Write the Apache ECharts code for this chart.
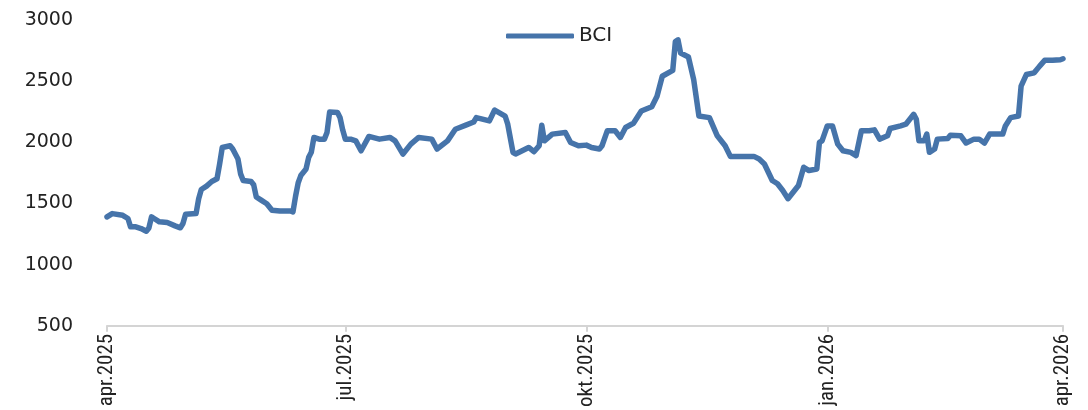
<!DOCTYPE html>
<html>
<head>
<meta charset="utf-8">
<script src="https://cdn.jsdelivr.net/npm/echarts@6/dist/echarts.min.js"></script>
<style>
  html, body { margin: 0; padding: 0; background: #fff; }
  #chart { width: 1088px; height: 410px; }
</style>
</head>
<body>
<div id="chart"></div>
<script>
// days since 1 apr 2025
const dayOffsets = [
  0, 2, 6, 8, 9, 11, 13, 15, 16, 17, 18, 20, 23, 26, 28, 29, 30, 34, 35, 36,
  38, 40, 42, 43, 44, 47, 48, 50, 51, 52, 55, 56, 57, 59, 61, 63, 66, 70, 71, 72,
  73, 74, 76, 77, 78, 79, 81, 83, 84, 85, 88, 89, 90, 91, 93, 95, 97, 100, 104, 108,
  110, 113, 116, 119, 124, 126, 130, 133, 137, 140, 141, 146, 148, 152, 153, 155, 156, 161, 163, 165,
  166, 167, 170, 175, 177, 180, 183, 185, 188, 189, 191, 194, 196, 198, 201, 204, 208, 210, 212, 216,
  217, 218, 219, 222, 224, 226, 230, 233, 236, 238, 247, 249, 251, 254, 256, 258, 260, 264, 266, 268,
  271, 272, 273, 275, 277, 279, 281, 284, 286, 288, 291, 293, 295, 298, 299, 303, 305, 308, 309, 310,
  312, 313, 314, 316, 317, 321, 322, 326, 328, 331, 333, 335, 337, 342, 343, 345, 348, 349, 351, 354,
  356, 358, 361, 364, 365
];
const bciValues = [
  1390, 1417, 1403, 1377, 1309, 1309, 1295, 1273, 1300, 1390, 1377, 1350, 1344, 1317, 1301, 1336, 1411, 1417, 1539, 1614,
  1642, 1680, 1702, 1823, 1958, 1972, 1945, 1864, 1742, 1688, 1680, 1653, 1553, 1525, 1498, 1444, 1439, 1439, 1431, 1560,
  1670, 1728, 1782, 1877, 1918, 2040, 2026, 2026, 2080, 2248, 2243, 2200, 2100, 2026, 2026, 2012, 1931, 2048, 2026, 2040,
  2012, 1904, 1985, 2040, 2026, 1945, 2012, 2107, 2140, 2166, 2202, 2175, 2264, 2215, 2148, 1918, 1904, 1958, 1923, 1972,
  2140, 2012, 2067, 2080, 1999, 1972, 1977, 1958, 1945, 1972, 2094, 2094, 2040, 2121, 2156, 2256, 2291, 2377, 2540, 2588,
  2824, 2838, 2730, 2697, 2513, 2215, 2202, 2053, 1972, 1885, 1885, 1864, 1823, 1688, 1661, 1606, 1539, 1647, 1796, 1769,
  1782, 1999, 2012, 2134, 2134, 1985, 1931, 1918, 1891, 2094, 2094, 2102, 2026, 2053, 2113, 2134, 2148, 2229, 2188, 2012,
  2012, 2067, 1918, 1945, 2026, 2032, 2058, 2053, 1994, 2026, 2026, 1994, 2067, 2067, 2134, 2202, 2215, 2459, 2554, 2568,
  2621, 2670, 2670, 2675, 2683
];
const tickDays = [0, 91, 183, 275, 365];
const tickLabels = ["apr.2025", "jul.2025", "okt.2025", "jan.2026", "apr.2026"];

const chart = echarts.init(document.getElementById("chart"));
chart.setOption({
  animation: false,
  grid: { left: 107, right: 25, top: 20, bottom: 82, containLabel: false },
  legend: {
    data: ["BCI"],
    left: 501,
    top: 21,
    icon: "roundRect",
    itemWidth: 68,
    itemHeight: 5,
    itemGap: 6,
    textStyle: { fontFamily: "DejaVu Sans", fontSize: 20, color: "#222" },
  },
  xAxis: {
    type: "value",
    min: 0,
    max: 365,
    splitLine: { show: false },
    axisLine: { show: true, lineStyle: { color: "#d4d4d4", width: 2 } },
    axisTick: {
      show: true,
      customValues: tickDays,
      length: 6,
      lineStyle: { color: "#d4d4d4", width: 2 },
    },
    axisLabel: {
      customValues: tickDays,
      rotate: 90,
      margin: 8,
      color: "#222",
      fontSize: 21,
      fontFamily: "Liberation Sans Narrow, Roboto Condensed, DejaVu Sans Condensed, sans-serif",
      formatter: (v) => tickLabels[tickDays.indexOf(v)] || "",
    },
  },
  yAxis: {
    type: "value",
    min: 500,
    max: 3000,
    interval: 500,
    splitLine: { show: false },
    axisLine: { show: false },
    axisTick: { show: false },
    axisLabel: {
      margin: 34,
      color: "#222",
      fontSize: 19,
      fontFamily: "DejaVu Sans",
      formatter: (v) => String(v),
    },
  },
  series: [
    {
      name: "BCI",
      type: "line",
      data: dayOffsets.map((d, i) => [d, bciValues[i]]),
      showSymbol: false,
      symbol: "none",
      lineStyle: { color: "#4674aa", width: 5.5, join: "round", cap: "round" },
      itemStyle: { color: "#4674aa" },
    },
  ],
});
</script>
</body>
</html>
